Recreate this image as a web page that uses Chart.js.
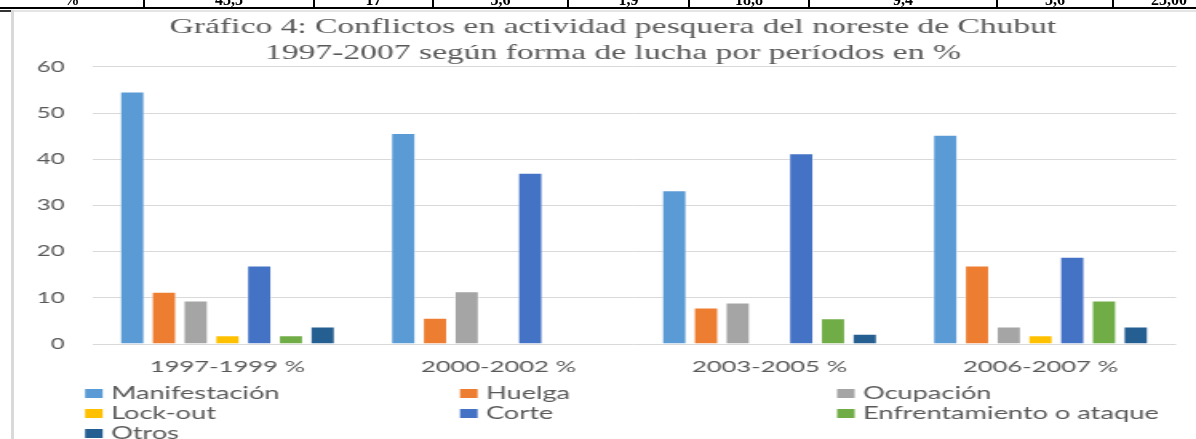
<!DOCTYPE html>
<html><head><meta charset="utf-8">
<script src="https://cdn.jsdelivr.net/npm/chart.js@4.4.0/dist/chart.umd.min.js"></script>
<style>
html,body{margin:0;padding:0;background:#fff;overflow:hidden;}
#wrap{position:relative;width:1196px;height:439px;overflow:hidden;}
#c{position:absolute;left:0;top:0;}
.ln{position:absolute;background:#000;}
.tc{position:absolute;top:-9px;height:16px;line-height:16px;font:bold 16px "Liberation Serif",serif;color:#000;text-align:center;white-space:nowrap;}
</style></head><body>
<div id="wrap">
<canvas id="c" width="748" height="439" style="width:1196px;height:439px"></canvas>
<div class="tc" style="left:0;width:143px">%</div>
<div class="tc" style="left:145px;width:168px">43,5</div>
<div class="tc" style="left:315px;width:117px">17</div>
<div class="tc" style="left:434px;width:133px">5,6</div>
<div class="tc" style="left:569px;width:119px">1,9</div>
<div class="tc" style="left:690px;width:118px">18,8</div>
<div class="tc" style="left:810px;width:186px">9,4</div>
<div class="tc" style="left:998px;width:114px">5,6</div>
<div class="tc" style="left:1114px;width:110px">25,00</div>
<div class="ln" style="left:0;top:7px;width:1196px;height:2px"></div>
<div class="ln" style="left:143px;top:0;width:2px;height:8px"></div>
<div class="ln" style="left:313px;top:0;width:2px;height:8px"></div>
<div class="ln" style="left:432px;top:0;width:2px;height:8px"></div>
<div class="ln" style="left:567px;top:0;width:2px;height:8px"></div>
<div class="ln" style="left:688px;top:0;width:2px;height:8px"></div>
<div class="ln" style="left:808px;top:0;width:2px;height:8px"></div>
<div class="ln" style="left:996px;top:0;width:2px;height:8px"></div>
<div class="ln" style="left:1112px;top:0;width:2px;height:8px"></div>
<div style="position:absolute;left:0;top:10px;width:11px;height:2px;background:#333"></div>
<div style="position:absolute;left:11px;top:10px;width:3px;height:429px;background:#d9d9d9"></div>
<div style="position:absolute;left:14px;top:10px;width:1182px;height:2px;background:#e4e4e4"></div>
</div>
<script>
const categories = ['1997-1999 %', '2000-2002 %', '2003-2005 %', '2006-2007 %'];
const manifestacion = [54.7, 45.7, 33.3, 45.3];
const huelga = [11.3, 5.7, 7.9, 17.0];
const ocupacion = [9.4, 11.4, 9.0, 3.8];
const lockout = [1.9, 0, 0, 1.9];
const corte = [17.0, 37.1, 41.3, 18.9];
const enfrentamiento = [1.9, 0, 5.6, 9.4];
const otros = [3.8, 0, 2.2, 3.8];
const seriesNames = ['Manifestación', 'Huelga', 'Ocupación', 'Lock-out', 'Corte', 'Enfrentamiento o ataque', 'Otros'];
const seriesColors = ['#5B9BD5', '#ED7D31', '#A5A5A5', '#FFC000', '#4472C4', '#70AD47', '#255E91'];
const yTicks = [0, 10, 20, 30, 40, 50, 60];
const titleLines = ['Gráfico 4: Conflictos en actividad pesquera del noreste de Chubut', '1997-2007 según forma de lucha por períodos en %'];

const seriesValues = [manifestacion, huelga, ocupacion, lockout, corte, enfrentamiento, otros];

const gridLegend = {
  id: 'gridLegend',
  afterLayout(chart) {
    if (chart.titleBlock) { chart.titleBlock.left = 31.3; }
  },
  afterDraw(chart) {
    const ctx = chart.ctx;
    const cols = [53.2, 287.7, 523.5];
    const rows = [393.5, 413.5, 433.5];
    ctx.save();
    ctx.font = '17px Lato';
    ctx.textBaseline = 'middle';
    ctx.textAlign = 'left';
    chart.data.datasets.forEach((ds, i) => {
      const x = cols[i % 3], y = rows[Math.floor(i / 3)];
      ctx.fillStyle = ds.backgroundColor;
      ctx.fillRect(x, y - 4.5, 11, 9);
      ctx.fillStyle = '#595959';
      ctx.fillText(ds.label, x + 16.2, y + 0.5);
    });
    ctx.restore();
  }
};

new Chart(document.getElementById('c'), {
  type: 'bar',
  data: {
    labels: categories,
    datasets: seriesNames.map((n, i) => ({
      label: n,
      data: seriesValues[i],
      backgroundColor: seriesColors[i],
      borderColor: 'rgba(255,255,255,0.55)',
      borderWidth: 1,
      categoryPercentage: 0.82,
      barPercentage: 0.8
    }))
  },
  options: {
    responsive: false,
    devicePixelRatio: 1,
    animation: false,
    layout: { padding: { left: 0, right: 12.5, top: 0, bottom: 49.8 } },
    plugins: {
      legend: { display: false },
      tooltip: { enabled: false },
      title: {
        display: true,
        text: titleLines,
        color: '#595959',
        font: { family: '"Liberation Serif", "Times New Roman", serif', size: 21, weight: 'normal', lineHeight: 1.26 },
        padding: { top: 14, bottom: 0 }
      }
    },
    scales: {
      x: {
        grid: { display: false, drawTicks: false },
        border: { display: false },
        ticks: { color: '#595959', font: { family: 'Lato', size: 16 }, padding: 13, maxRotation: 0 }
      },
      y: {
        min: 0, max: 60,
        afterBuildTicks: (axis) => { axis.ticks = yTicks.map(v => ({ value: v })); },
        afterFit: (axis) => { axis.width = 57.5; },
        grid: { color: '#d9d9d9', lineWidth: 1, drawTicks: false },
        border: { display: false },
        ticks: { color: '#595959', font: { family: 'Lato', size: 15 }, padding: 17 }
      }
    }
  },
  plugins: [gridLegend]
});
</script>
</body></html>
